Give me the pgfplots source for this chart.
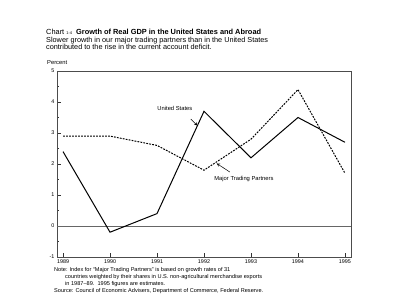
\documentclass[border=0pt]{standalone}
\usepackage{pgfplots}
\pgfplotsset{compat=1.18}
\usepackage{fontspec}
\setmainfont{Liberation Sans}
\begin{document}
\begin{tikzpicture}[x=1pt,y=1pt]
\path[use as bounding box] (0,0) rectangle (400,-303);
\begin{axis}[
  at={(57pt,-257pt)}, anchor=south west,
  scale only axis, width=294pt, height=186pt,
  xmin=1988.872, xmax=1995.128, ymin=-1, ymax=5,
  xtick={1989,1990,1991,1992,1993,1994,1995},
  ytick={-1,0,1,2,3,4,5},
  minor ytick={-0.5,0.5,1.5,2.5,3.5,4.5},
  xticklabel style={/pgf/number format/1000 sep={}},
  xtick pos=bottom, ytick pos=left, tick align=inside,
  major tick length=4pt, minor tick length=2pt,
  axis line style={draw=black!70, line width=1pt},
  tick style={draw=black!80, line width=0.6pt},
  /pgf/number format/assume math mode=true,
  ticklabel style={font=\fontsize{5.4}{6}\selectfont},
  xticklabel style={yshift=1pt},
  yticklabel style={xshift=1pt},
]
\addplot[black!60, line width=1pt, forget plot] coordinates {(1988.872,0) (1995.128,0)};
\addplot[black, line width=1pt] coordinates {
(1989,2.4) (1990,-0.2) (1991,0.4) (1992,3.7) (1993,2.2) (1994,3.5) (1995,2.7)};
\addplot[black, line width=1pt, dash pattern=on 1.8pt off 1.2pt] coordinates {
(1989,2.9) (1990,2.9) (1991,2.6) (1992,1.8) (1993,2.8) (1994,4.4) (1995,1.7)};
\node[font=\fontsize{5.8}{6}\selectfont] at (axis cs:1991.38,3.79) {United States};
\draw[-stealth, line width=0.5pt] (axis cs:1991.72,3.45) -- (axis cs:1991.86,3.24);
\node[font=\fontsize{5.8}{6}\selectfont] at (axis cs:1992.85,1.51) {Major Trading Partners};
\draw[-stealth, line width=0.5pt] (axis cs:1992.55,1.74) -- (axis cs:1992.27,2.02);
\end{axis}
\node[anchor=base west, inner sep=0pt, font=\fontsize{7.4}{8}\selectfont] at (46,-34.5) {Chart {\fontsize{4}{5}\selectfont 1-4}\hspace{4pt}\textbf{Growth of Real GDP in the United States and Abroad}};
\node[anchor=base west, inner sep=0pt, font=\fontsize{7.3}{8}\selectfont] at (46,-42) {Slower growth in our major trading partners than in the United States};
\node[anchor=base west, inner sep=0pt, font=\fontsize{7.3}{8}\selectfont] at (46,-49) {contributed to the rise in the current account deficit.};
\node[anchor=base west, inner sep=0pt, font=\fontsize{5.8}{6}\selectfont] at (47,-64) {Percent};
\node[anchor=base west, inner sep=0pt, font=\fontsize{5.6}{6}\selectfont] at (54,-271) {Note: Index for ``Major Trading Partners'' is based on growth rates of 31};
\node[anchor=base west, inner sep=0pt, font=\fontsize{5.6}{6}\selectfont] at (65,-278) {countries weighted by their shares in U.S. non-agricultural merchandise exports};
\node[anchor=base west, inner sep=0pt, font=\fontsize{5.6}{6}\selectfont] at (65,-285) {in 1987--89.\ \ 1995 figures are estimates.};
\node[anchor=base west, inner sep=0pt, font=\fontsize{5.6}{6}\selectfont] at (54,-292) {Source: Council of Economic Advisers, Department of Commerce, Federal Reserve.};
\end{tikzpicture}
\end{document}
